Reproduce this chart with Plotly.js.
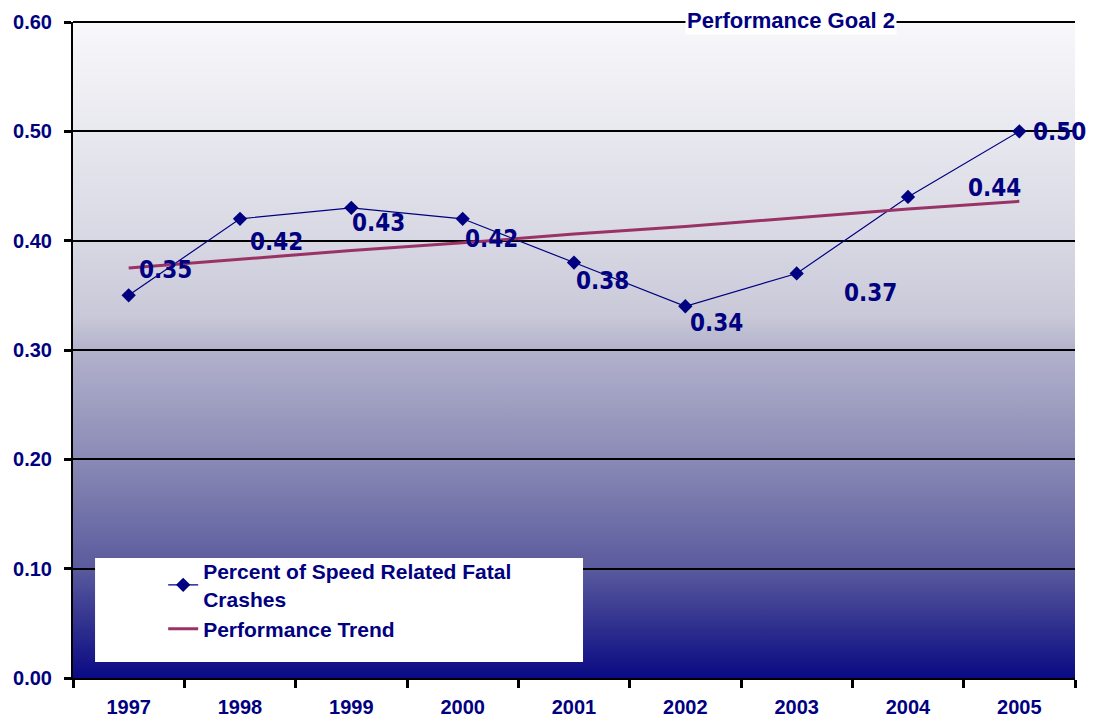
<!DOCTYPE html>
<html>
<head>
<meta charset="utf-8">
<script src="https://cdn.plot.ly/plotly-3.0.1.min.js"></script>
<style>
  html, body { margin: 0; padding: 0; background: #ffffff; }
  #chart { width: 1093px; height: 721px; }
</style>
</head>
<body>
<div id="chart"></div>
<script>
// ---- data ----
const years = ["1997", "1998", "1999", "2000", "2001", "2002", "2003", "2004", "2005"];
const speedPct = [0.35, 0.42, 0.43, 0.42, 0.38, 0.34, 0.37, 0.44, 0.50];
const trendVals = [0.375, 0.383, 0.391, 0.398, 0.406, 0.413, 0.421, 0.429, 0.436];
const yTicks = [0, 0.1, 0.2, 0.3, 0.4, 0.5, 0.6];
const yTickText = ["0.00", "0.10", "0.20", "0.30", "0.40", "0.50", "0.60"];
const seriesNames = ["Percent of Speed Related Fatal<br>Crashes", "Performance Trend"];
const chartTitle = "Performance Goal 2";

// ---- label placement (pixel offsets from each point) ----
const labelDx = [37, 36, 27, 29, 28, 31, 74, 86, 40];
const labelDy = [25, -23, -15, -20, -18, -17, -20, 9, -1];

const navy = "#000080";
const plum = "#993366";

const grad = "<svg xmlns='http://www.w3.org/2000/svg' width='100' height='100' viewBox='0 0 100 100' preserveAspectRatio='none'>" +
  "<defs><linearGradient id='g' x1='0' y1='0' x2='0' y2='1'>" +
  "<stop offset='0' stop-color='#f8f8fb'/>" +
  "<stop offset='0.167' stop-color='#e8e8ef'/>" +
  "<stop offset='0.333' stop-color='#d8d8e4'/>" +
  "<stop offset='0.45' stop-color='#c8c8d8'/>" +
  "<stop offset='0.5' stop-color='#b2b2cc'/>" +
  "<stop offset='0.667' stop-color='#8a8ab6'/>" +
  "<stop offset='0.833' stop-color='#5a5a9e'/>" +
  "<stop offset='0.94' stop-color='#26268c'/>" +
  "<stop offset='1' stop-color='#0a0a84'/>" +
  "</linearGradient></defs><rect x='0' y='0' width='100' height='100' fill='url(#g)'/></svg>";
const gradUri = "data:image/svg+xml;charset=utf-8," + encodeURIComponent(grad);

const traces = [
  {
    type: "scatter", mode: "lines+markers",
    x: years, y: speedPct, name: seriesNames[0],
    line: { color: navy, width: 1.2 },
    marker: { symbol: "diamond", size: 11, color: navy },
    cliponaxis: false
  },
  {
    type: "scatter", mode: "lines",
    x: years, y: trendVals, name: seriesNames[1],
    line: { color: plum, width: 3 }
  }
];

const labelFont = { family: "Liberation Sans Narrow, DejaVu Sans Condensed, Arial Narrow, Arial, sans-serif", size: 24, color: navy, weight: "bold" };
const annotations = years.map((yr, i) => ({
  x: i, y: speedPct[i], xref: "x", yref: "y",
  text: "<b>" + speedPct[i].toFixed(2) + "</b>", showarrow: false,
  xanchor: "center", yanchor: "middle",
  xshift: labelDx[i], yshift: labelDy[i],
  font: labelFont
}));
annotations.push({
  x: 0.7166, y: 1.003, xref: "paper", yref: "paper",
  xanchor: "center", yanchor: "middle",
  text: "<b>" + chartTitle + "</b>", showarrow: false,
  bgcolor: "#ffffff", borderpad: 1,
  font: { family: "Arial, Liberation Sans, sans-serif", size: 22, color: navy }
});

const layout = {
  width: 1093, height: 721,
  margin: { l: 73, r: 18, t: 22, b: 43, pad: 0 },
  paper_bgcolor: "#ffffff",
  plot_bgcolor: "rgba(0,0,0,0)",
  showlegend: true,
  font: { family: "Arial, Liberation Sans, sans-serif", color: navy },
  images: [{
    source: gradUri, xref: "paper", yref: "paper",
    x: 0, y: 1, sizex: 1, sizey: 1, xanchor: "left", yanchor: "top",
    sizing: "stretch", layer: "below"
  }],
  shapes: [
    {
      type: "rect", xref: "paper", yref: "paper",
      x0: 0.022, x1: 0.509, y0: 0.0244, y1: 0.183,
      fillcolor: "#ffffff", line: { width: 0 }, layer: "above"
    },
    {
      type: "line", xref: "paper", yref: "paper",
      x0: 0, x1: 1, y0: 1, y1: 1,
      line: { color: "#000000", width: 2 }, layer: "below"
    }
  ],
  legend: {
    x: 0.09, y: 0.1935, xanchor: "left", yanchor: "top",
    bgcolor: "rgba(0,0,0,0)", borderwidth: 0,
    tracegroupgap: 0, itemwidth: 30,
    font: { family: "Arial, Liberation Sans, sans-serif", size: 21, color: navy, weight: "bold" }
  },
  xaxis: {
    type: "category", range: [-0.5, 8.5],
    showgrid: false, zeroline: false,
    showline: true, linecolor: "#000000", linewidth: 2,
    ticks: "outside", tickson: "boundaries", ticklen: 8, tickwidth: 3, tickcolor: "#000000",
    tickfont: { family: "Arial, Liberation Sans, sans-serif", size: 20, color: navy, weight: "bold" },
    ticklabelstandoff: 10,
    fixedrange: true
  },
  yaxis: {
    range: [0, 0.6], tickvals: yTicks, ticktext: yTickText,
    showgrid: true, gridcolor: "#000000", gridwidth: 2,
    zeroline: false,
    showline: true, linecolor: "#000000", linewidth: 2,
    ticks: "outside", ticklen: 7, tickwidth: 3, tickcolor: "#000000",
    tickfont: { family: "Arial, Liberation Sans, sans-serif", size: 20, color: navy, weight: "bold" },
    ticklabelstandoff: 8,
    fixedrange: true
  },
  annotations: annotations
};

Plotly.newPlot("chart", traces, layout, { displayModeBar: false, staticPlot: true });
</script>
</body>
</html>
